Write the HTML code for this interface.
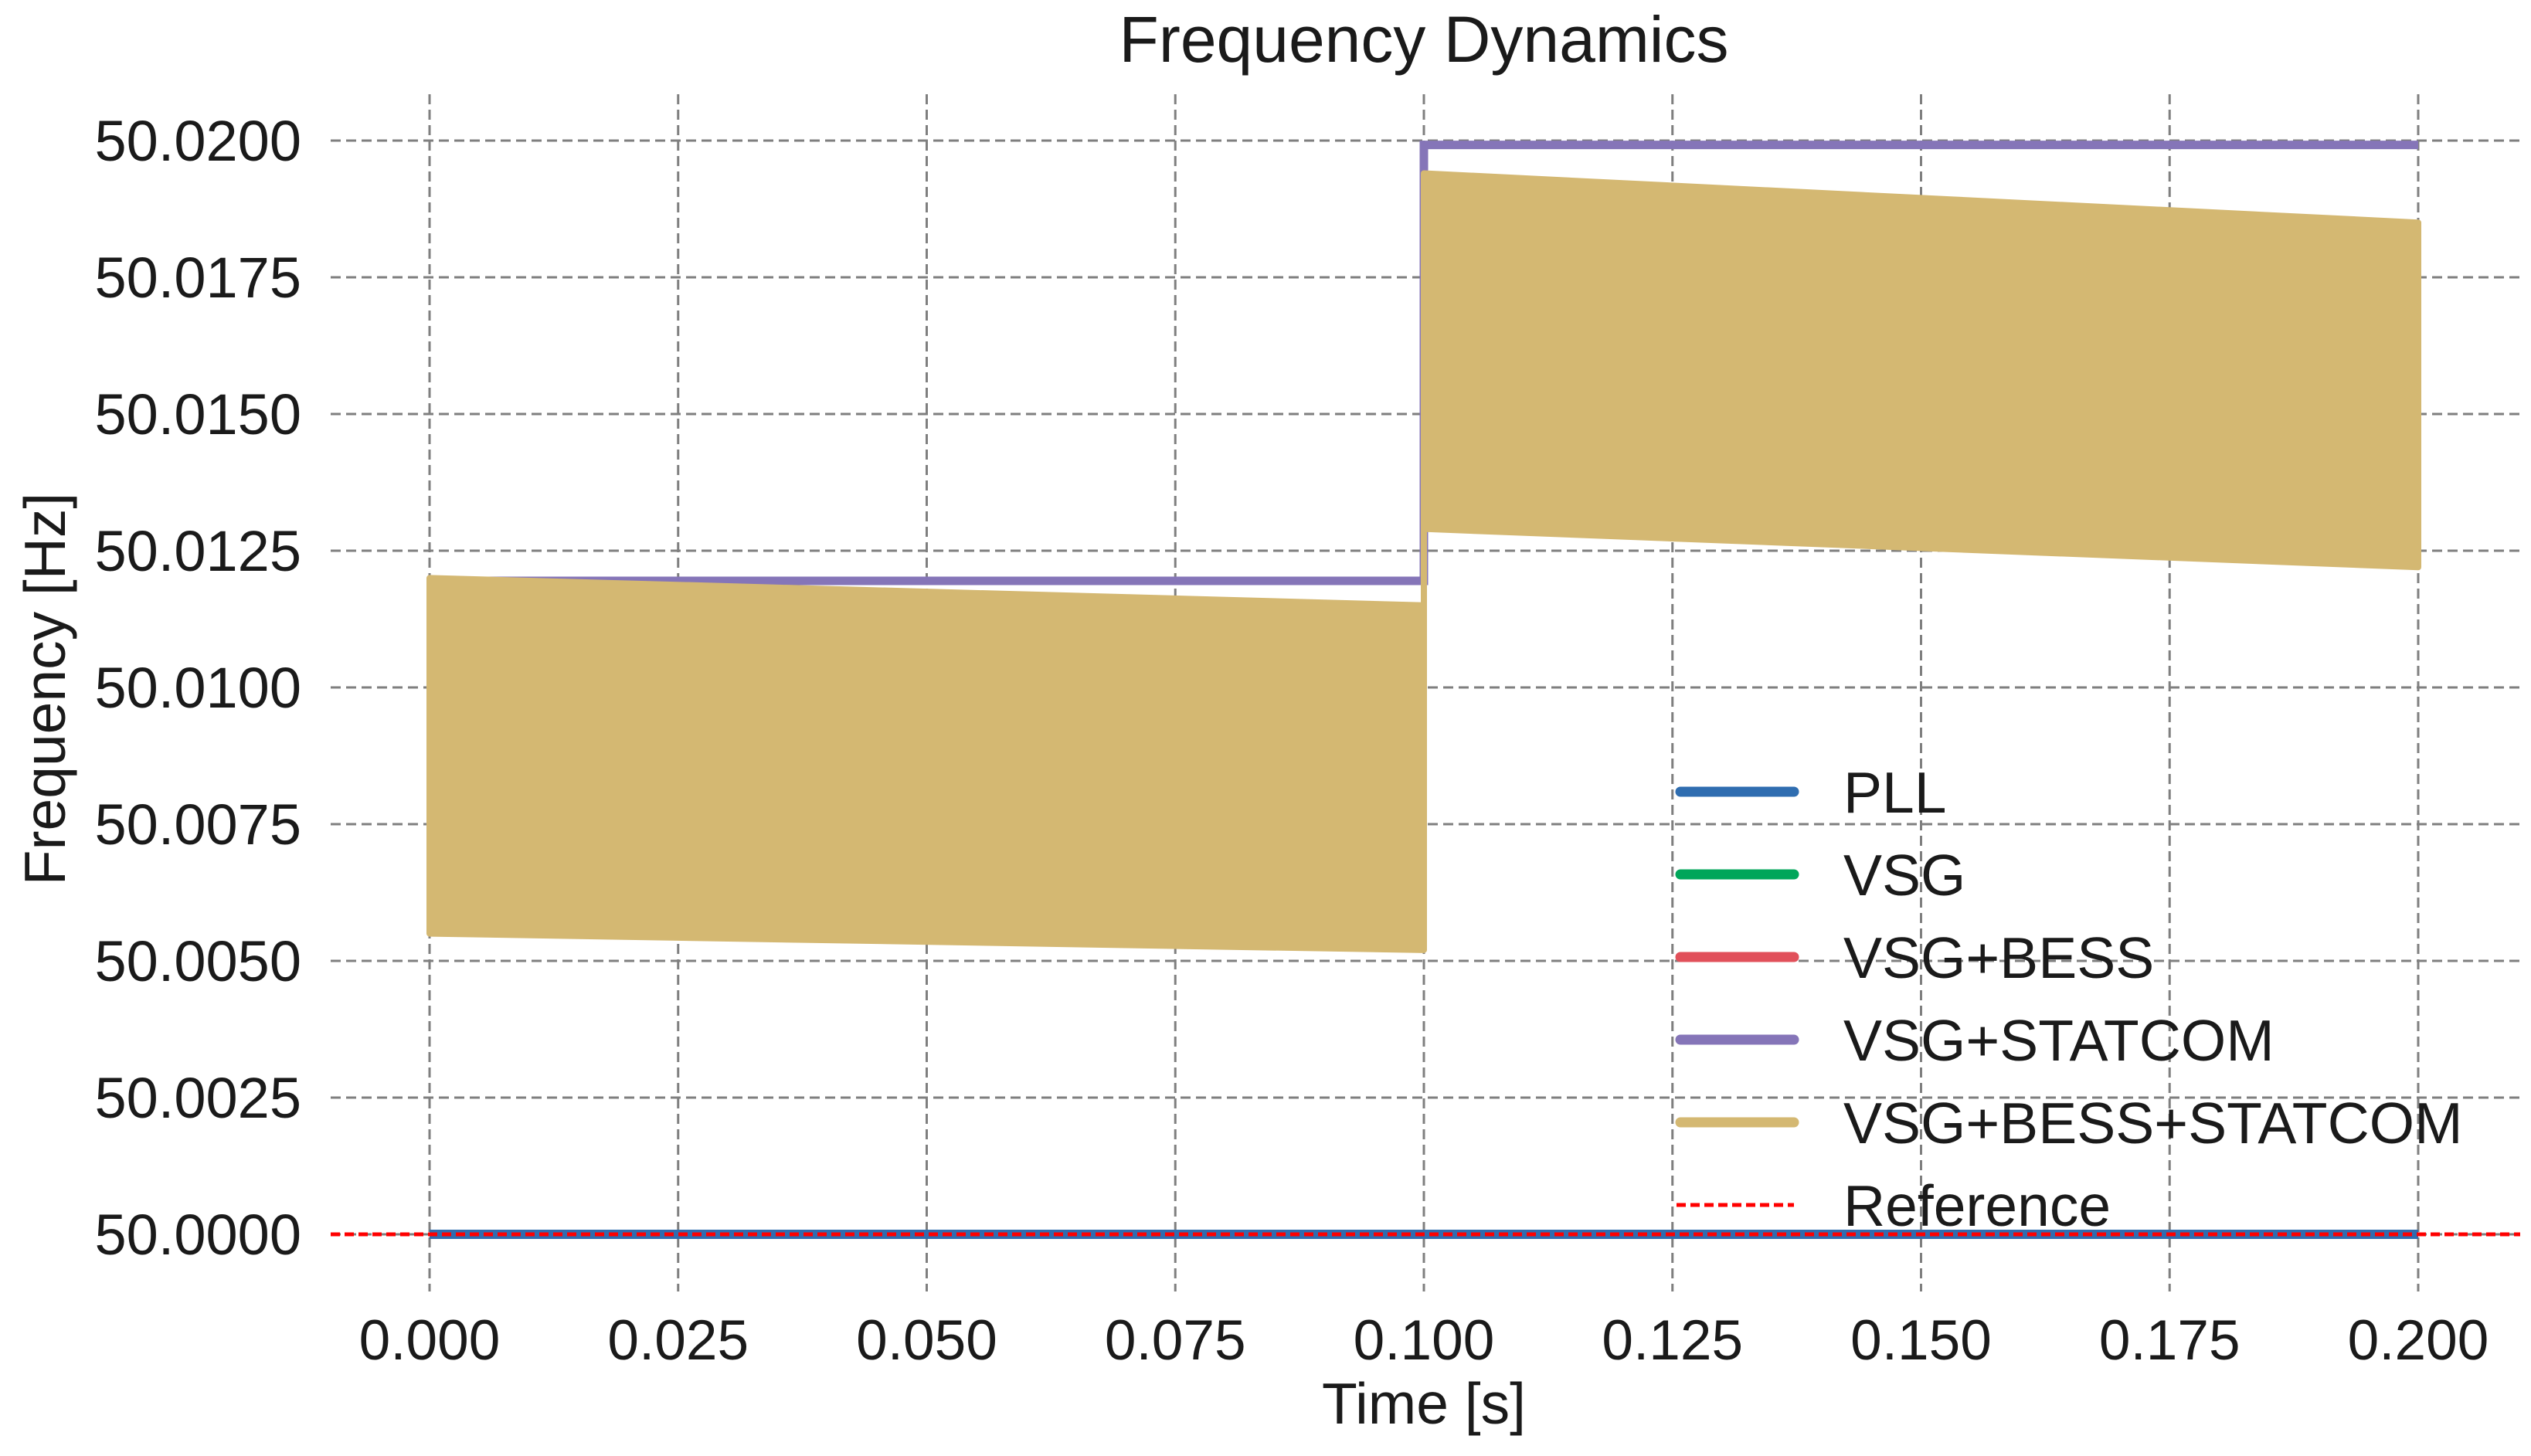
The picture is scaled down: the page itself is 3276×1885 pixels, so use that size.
<!DOCTYPE html>
<html><head><meta charset="utf-8"><style>
html,body{margin:0;padding:0;background:#fff}
svg{display:block}
text{font-family:"Liberation Sans",Arial,sans-serif;fill:#1a1a1a}
</style></head><body>
<svg id="chart" width="3276" height="1885" viewBox="0 0 3276 1885" xmlns="http://www.w3.org/2000/svg">
<rect width="3276" height="1885" fill="#fff"/>
<text x="1843" y="80" font-size="84" text-anchor="middle">Frequency Dynamics</text>
<g id="grid"></g>
<g id="series"></g>
<g id="axes"></g>
<g id="legend"></g>
<text x="1843" y="1843" font-size="75" text-anchor="middle">Time [s]</text>
<text transform="translate(84,892) rotate(-90)" font-size="75" text-anchor="middle">Frequency [Hz]</text>
</svg>
<script>
const xTicks = [0, 0.025, 0.05, 0.075, 0.1, 0.125, 0.15, 0.175, 0.2];
const xTickLabels = ["0.000","0.025","0.050","0.075","0.100","0.125","0.150","0.175","0.200"];
const yTicks = [0, 0.0025, 0.005, 0.0075, 0.01, 0.0125, 0.015, 0.0175, 0.02];
const yTickLabels = ["50.0000","50.0025","50.0050","50.0075","50.0100","50.0125","50.0150","50.0175","50.0200"];
const pllT = [0, 0.2];
const pllV = [0, 0];
const statcomT = [0, 0.1, 0.1, 0.2];
const statcomV = [0.01195, 0.01195, 0.01992, 0.01992];
const bandT = [0, 0.1, 0.1, 0.2];
const bandUpper = [0.0120, 0.0115, 0.0194, 0.0185];
const bandLower = [0.0055, 0.0052, 0.0129, 0.0122];
const refLevel = 0;
const legendLabels = ["PLL","VSG","VSG+BESS","VSG+STATCOM","VSG+BESS+STATCOM","Reference"];
const legendColors = ["#2f6db0","#00a65a","#e1505a","#8575b8","#d4b872","#ff0000"];

const NS = "http://www.w3.org/2000/svg";
const X = t => 556 + t / 0.2 * 2574;
const Y = v => 1598 - v / 0.02 * 1416;
function mk(tag, attrs, parent) {
  const e = document.createElementNS(NS, tag);
  for (const k in attrs) e.setAttribute(k, attrs[k]);
  parent.appendChild(e);
  return e;
}
const grid = document.getElementById('grid');
const series = document.getElementById('series');
const axes = document.getElementById('axes');
const legend = document.getElementById('legend');

xTicks.forEach((t, i) => {
  const l = mk('line', {x1: X(t), x2: X(t), y1: 122, y2: 1672, stroke: '#7f7f7f', 'stroke-width': 3, 'stroke-dasharray': '13,7'}, grid);
  
  
  const tx = mk('text', {x: X(t), y: 1760, 'font-size': 73, 'text-anchor': 'middle'}, axes);
  tx.textContent = xTickLabels[i];
  
  
});
yTicks.forEach((v, i) => {
  const l = mk('line', {x1: 428, x2: 3262, y1: Y(v), y2: Y(v), stroke: '#7f7f7f', 'stroke-width': 3, 'stroke-dasharray': '13,7'}, grid);
  
  
  const tx = mk('text', {x: 390, y: Y(v) + 26, 'font-size': 74, 'text-anchor': 'end'}, axes);
  tx.textContent = yTickLabels[i];
  
  
});

let pts = [];
for (let i = 0; i < bandT.length; i++) pts.push(X(bandT[i]) + ',' + Y(bandUpper[i]));
for (let i = bandT.length - 1; i >= 0; i--) pts.push(X(bandT[i]) + ',' + Y(bandLower[i]));

const sp = statcomT.map((t, i) => X(t) + ',' + Y(statcomV[i])).join(' ');
const sl = mk('polyline', {points: sp, fill: 'none', stroke: legendColors[3], 'stroke-width': 11}, series);



const band = mk('polygon', {points: pts.join(' '), fill: legendColors[4], stroke: legendColors[4], 'stroke-width': 8, 'stroke-linejoin': 'round'}, series);



const pp = pllT.map((t, i) => X(t) + ',' + Y(pllV[i])).join(' ');
const pl = mk('polyline', {points: pp, fill: 'none', stroke: legendColors[0], 'stroke-width': 12}, series);



const rl = mk('line', {x1: 428, x2: 3262, y1: Y(refLevel), y2: Y(refLevel), stroke: '#ff0000', 'stroke-width': 5, 'stroke-dasharray': '12,6'}, series);



legendLabels.forEach((lab, i) => {
  const y = 1025 + i * 107;
  const g = mk('g', {}, legend);
  
  
  if (i === 5) {
    mk('line', {x1: 2170, x2: 2322, y1: y, y2: y, stroke: '#ff0000', 'stroke-width': 5, 'stroke-dasharray': '12,6'}, g);
  } else {
    mk('line', {x1: 2175, x2: 2322, y1: y, y2: y, stroke: legendColors[i], 'stroke-width': 13, 'stroke-linecap': 'round'}, g);
  }
  const t = mk('text', {x: 2386, y: y + 27, 'font-size': 75}, g);
  t.textContent = lab;
});
</script>
</body></html>
